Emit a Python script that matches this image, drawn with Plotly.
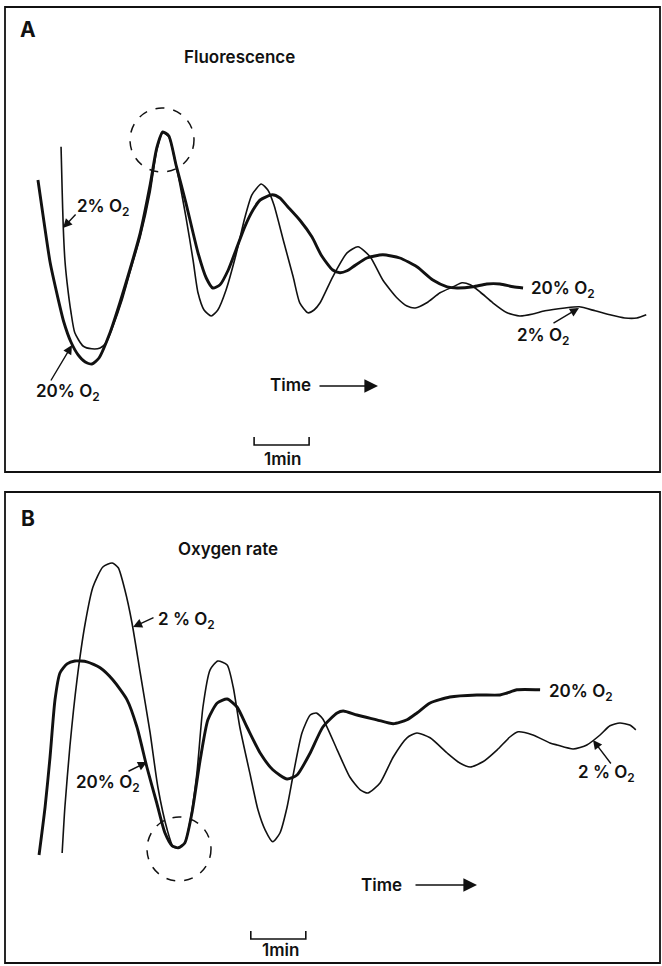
import plotly.graph_objects as go

# ---------------- data (time in min, signal in arbitrary units) ----------------
# Panel A: Fluorescence
fluor_t_20 = [0.69, 0.80, 0.91, 1.04, 1.16, 1.29, 1.42, 1.55, 1.67, 1.80, 2.00, 2.18, 2.36, 2.55,
              2.73, 2.85, 2.96, 3.07, 3.20, 3.38, 3.60, 3.75, 3.87, 4.00, 4.15, 4.29, 4.45, 4.60,
              4.73, 4.95, 5.09, 5.22, 5.45, 5.67, 5.85, 6.05, 6.18, 6.31, 6.42, 6.67, 6.96, 7.27,
              7.58, 7.87, 8.13, 8.31, 8.60, 8.85, 9.09, 9.33, 9.51]
fluor_20 = [7.30, 6.25, 5.25, 4.43, 3.75, 3.25, 2.93, 2.75, 2.70, 2.85, 3.48, 4.23, 5.05, 5.98,
            7.18, 8.10, 8.50, 8.40, 7.68, 6.73, 5.48, 4.85, 4.60, 4.68, 5.05, 5.55, 6.13, 6.55,
            6.80, 6.93, 6.85, 6.65, 6.30, 5.88, 5.40, 5.05, 4.98, 5.03, 5.13, 5.35, 5.43, 5.35,
            5.13, 4.80, 4.63, 4.60, 4.63, 4.70, 4.70, 4.63, 4.60]

fluor_t_2 = [1.11, 1.13, 1.15, 1.18, 1.22, 1.29, 1.36, 1.51, 1.67, 1.82, 1.93, 2.05, 2.22, 2.36,
             2.55, 2.73, 2.85, 2.96, 3.07, 3.18, 3.38, 3.51, 3.60, 3.71, 3.84, 3.96, 4.11, 4.29,
             4.45, 4.58, 4.75, 4.87, 4.98, 5.15, 5.33, 5.45, 5.60, 5.71, 5.82, 6.05, 6.31, 6.51,
             6.73, 6.96, 7.22, 7.40, 7.55, 7.76, 8.00, 8.24, 8.40, 8.55, 8.73, 8.96, 9.22, 9.45,
             9.69, 9.91, 10.27, 10.53, 10.82, 11.09, 11.36, 11.58, 11.75]
fluor_2 = [8.13, 7.05, 6.13, 5.30, 4.73, 4.00, 3.48, 3.15, 3.08, 3.10, 3.23, 3.63, 4.30, 4.98,
           5.88, 7.00, 8.05, 8.48, 8.38, 7.80, 6.38, 5.30, 4.48, 4.05, 3.90, 4.05, 4.55, 5.43,
           6.35, 6.93, 7.20, 7.05, 6.68, 5.80, 4.88, 4.23, 3.98, 4.05, 4.23, 4.88, 5.48, 5.63,
           5.38, 4.80, 4.35, 4.15, 4.10, 4.23, 4.48, 4.63, 4.73, 4.68, 4.50, 4.23, 3.98, 3.90,
           3.95, 4.03, 4.10, 4.13, 4.03, 3.93, 3.85, 3.85, 3.93]

# Panel B: Oxygen rate
oxy_t_20 = [0.71, 0.82, 0.91, 1.00, 1.09, 1.22, 1.36, 1.58, 1.82, 2.05, 2.31, 2.49, 2.67, 2.85,
            3.00, 3.13, 3.24, 3.36, 3.49, 3.64, 3.78, 3.95, 4.13, 4.31, 4.49, 4.73, 4.96, 5.22,
            5.40, 5.64, 5.87, 6.13, 6.24, 6.49, 6.85, 7.15, 7.40, 7.58, 7.82, 8.18, 8.67, 9.09,
            9.22, 9.40, 9.82]
oxy_20 = [2.75, 3.95, 5.20, 6.63, 7.30, 7.53, 7.60, 7.58, 7.43, 7.13, 6.63, 5.95, 4.95, 4.05,
          3.30, 2.98, 2.93, 3.05, 3.80, 5.13, 6.13, 6.55, 6.65, 6.45, 5.95, 5.30, 4.88, 4.65,
          4.75, 5.30, 5.95, 6.30, 6.35, 6.25, 6.13, 6.03, 6.13, 6.30, 6.55, 6.70, 6.75, 6.75,
          6.80, 6.88, 6.88]

oxy_t_2 = [1.13, 1.18, 1.27, 1.40, 1.55, 1.69, 1.87, 2.04, 2.15, 2.27, 2.40, 2.55, 2.73, 2.87,
           3.04, 3.15, 3.24, 3.36, 3.45, 3.58, 3.69, 3.82, 3.96, 4.13, 4.24, 4.36, 4.55, 4.69,
           4.82, 4.96, 5.09, 5.22, 5.33, 5.49, 5.64, 5.75, 5.87, 6.13, 6.36, 6.55, 6.69, 6.91,
           7.15, 7.40, 7.58, 7.82, 8.13, 8.36, 8.55, 8.78, 9.04, 9.27, 9.42, 9.69, 10.00, 10.13,
           10.42, 10.67, 10.91, 11.09, 11.27, 11.45, 11.56]
oxy_2 = [2.80, 3.95, 5.45, 7.13, 8.55, 9.45, 9.95, 10.05, 9.93, 9.38, 8.55, 7.30, 5.80, 4.45,
         3.38, 2.95, 2.93, 3.05, 3.55, 4.80, 6.45, 7.38, 7.60, 7.50, 6.95, 5.95, 4.75, 3.88,
         3.38, 3.08, 3.30, 3.95, 4.75, 5.80, 6.25, 6.30, 6.15, 5.38, 4.70, 4.38, 4.30, 4.55,
         5.20, 5.68, 5.80, 5.68, 5.30, 5.05, 4.95, 5.08, 5.38, 5.70, 5.83, 5.75, 5.55, 5.50,
         5.40, 5.50, 5.75, 5.98, 6.05, 6.00, 5.88]

SCALE_BAR_MIN = 1.0
label_20 = "20%\u00a0O<sub>2</sub>"
label_2a = "2%\u00a0O<sub>2</sub>"
label_2b = "2\u00a0%\u00a0O<sub>2</sub>"

# ---------------- figure ----------------
W, H = 662, 966
PX_PER_MIN = 55.0
FONT = "Inter, Roboto, Liberation Sans, Arial, sans-serif"
INK = "#111111"
FS = 17
WEIGHT = 560


def px(x):
    return x / W


def py(y):
    return 1 - y / H


fig = go.Figure()
thin = dict(color=INK, width=1.6, shape="spline", smoothing=0.6)
thick = dict(color=INK, width=2.9, shape="spline", smoothing=0.6)

fig.add_trace(go.Scatter(x=fluor_t_2, y=fluor_2, mode="lines", line=thin, xaxis="x", yaxis="y",
                         hoverinfo="skip"))
fig.add_trace(go.Scatter(x=fluor_t_20, y=fluor_20, mode="lines", line=thick, xaxis="x", yaxis="y",
                         hoverinfo="skip"))
fig.add_trace(go.Scatter(x=oxy_t_2, y=oxy_2, mode="lines", line=thin, xaxis="x2", yaxis="y2",
                         hoverinfo="skip"))
fig.add_trace(go.Scatter(x=oxy_t_20, y=oxy_20, mode="lines", line=thick, xaxis="x2", yaxis="y2",
                         hoverinfo="skip"))

split = 488 / H
fig.update_layout(
    width=W, height=H,
    margin=dict(l=0, r=0, t=0, b=0),
    paper_bgcolor="white", plot_bgcolor="rgba(0,0,0,0)",
    showlegend=False,
    font=dict(family=FONT, color=INK, size=FS),
    xaxis=dict(domain=[0, 1], range=[0, W / PX_PER_MIN], visible=False, anchor="y", fixedrange=True),
    yaxis=dict(domain=[1 - split, 1], range=[(472 - 488) / 40, 472 / 40], visible=False, anchor="x",
               fixedrange=True),
    xaxis2=dict(domain=[0, 1], range=[0, W / PX_PER_MIN], visible=False, anchor="y2", fixedrange=True),
    yaxis2=dict(domain=[0, 1 - split], range=[-0.025, (965 - 488) / 40], visible=False, anchor="x2",
                fixedrange=True),
)

shapes = []
# panel frames
for (x0, y0, x1, y1) in [(5, 7, 660, 472), (5, 492, 660, 963)]:
    shapes.append(dict(type="rect", xref="paper", yref="paper",
                       x0=px(x0), x1=px(x1), y0=py(y1), y1=py(y0),
                       line=dict(color=INK, width=1.8), fillcolor="rgba(0,0,0,0)", layer="below"))
# dashed circles
for (cx, cy, r) in [(162, 140, 32), (179, 849, 32)]:
    shapes.append(dict(type="circle", xref="paper", yref="paper",
                       x0=px(cx - r), x1=px(cx + r), y0=py(cy + r), y1=py(cy - r),
                       line=dict(color=INK, width=1.5, dash="dash")))
# scale bars (1 min)
for (xa, ya, t0, base, tick) in [("x", "y", 4.62, 0.675, 0.2), ("x2", "y2", 4.56, 0.65, 0.2)]:
    t1 = t0 + SCALE_BAR_MIN
    shapes.append(dict(type="path", xref=xa, yref=ya,
                       path=f"M {t0},{base + tick} L {t0},{base} L {t1},{base} L {t1},{base + tick}",
                       line=dict(color=INK, width=1.6)))
fig.update_layout(shapes=shapes)

ann = []


def text(x, y, s, size=FS, bold=False):
    ann.append(dict(x=px(x), y=py(y), xref="paper", yref="paper", text=s, showarrow=False,
                    xanchor="center", yanchor="middle",
                    font=dict(size=size, family=FONT, color=INK, weight=700 if bold else WEIGHT)))


def arrow(xa, ya, tx, ty, tail_px, tip_px, head=2, size=1.3, width=1.4):
    ann.append(dict(x=tx, y=ty, xref=xa, yref=ya, text="", showarrow=True,
                    ax=tail_px[0] - tip_px[0], ay=tail_px[1] - tip_px[1],
                    arrowhead=head, arrowsize=size, arrowwidth=width, arrowcolor=INK,
                    standoff=0, startstandoff=0))


# Panel A
text(28, 30, "A", size=21, bold=True)
text(239, 57, "Fluorescence")
text(103, 207, label_2a)
text(68, 392, label_20)
text(563, 289, label_20)
text(543, 336, label_2a)
text(290, 385, "Time")
text(282, 459, "1min")
arrow("x", "y", 63 / PX_PER_MIN, (472 - 228) / 40, (77, 213), (63, 228))
arrow("x", "y", 72 / PX_PER_MIN, (472 - 345) / 40, (50, 382), (72, 345))
arrow("x", "y", 579 / PX_PER_MIN, (472 - 308) / 40, (552, 324), (579, 308))
arrow("paper", "paper", px(378), py(386), (318, 386), (378, 386), head=2, size=1.7, width=1.6)

# Panel B
text(28, 518, "B", size=21, bold=True)
text(228, 549, "Oxygen rate")
text(186, 620, label_2b)
text(108, 783, label_20)
text(581, 692, label_20)
text(606, 773, label_2b)
text(381, 885, "Time")
text(280, 950, "1min")
arrow("x2", "y2", 133 / PX_PER_MIN, (965 - 627) / 40, (155, 617), (133, 627))
arrow("x2", "y2", 147 / PX_PER_MIN, (965 - 762) / 40, (127, 772), (147, 762))
arrow("x2", "y2", 593 / PX_PER_MIN, (965 - 740) / 40, (612, 765), (593, 740))
arrow("paper", "paper", px(477), py(885), (414, 885), (477, 885), head=2, size=1.7, width=1.6)

fig.update_layout(annotations=ann)
# the page's default body margin would shift the figure by 8 px; remove it
fig.write_html("out.html", config={"displayModeBar": False, "staticPlot": True},
               post_script="document.body.style.margin='0';document.body.style.overflow='hidden';")
